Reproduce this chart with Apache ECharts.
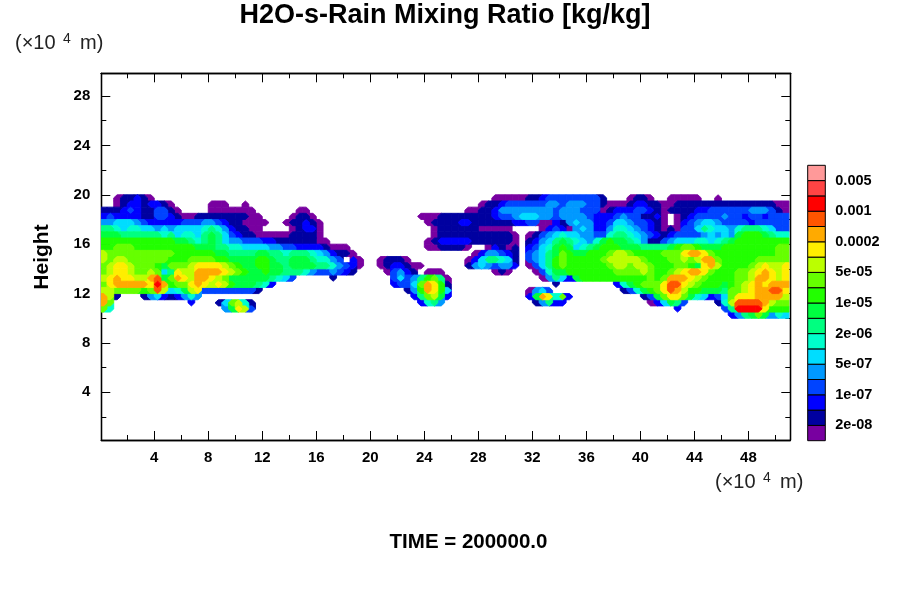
<!DOCTYPE html>
<html><head><meta charset="utf-8">
<style>html,body{margin:0;padding:0;background:#fff}#c{width:900px;height:600px}</style>
<script src="https://cdn.jsdelivr.net/npm/echarts@6/dist/echarts.min.js"></script>
</head><body><div id="c"></div>
<script>
// contour level per cell ('.' = no rain), columns every 0.5 x 10^4 m, rows every 0.5 x 10^4 m, first row is 20.0-19.5
const topHeight = 20, cellW = 0.5, cellH = 0.5;
const levelRows = [
"..011210.. .......... .......... .......... .......... ........00 0001123333 33331...01 10..00000. .0........ ..",
"..01221221 0.....000. .0........ .......... .......... ......0112 3333334434 4433100012 2110011111 1111111111 00",
"1112321133 10....0000 000......0 0......... .......... ....001124 4444444344 4333012223 3210111122 3333334443 10",
"2322221133 2100111111 1100....01 10........ .......000 1111111123 3455544344 4432223433 1120.01233 3343323323 33",
"4455543222 2233344321 10000..011 210....... ........01 1112211111 1223300214 5442235543 3210.02345 5433332333 33",
"7765665545 4555567642 1100....01 220....... .........0 1111110000 0....02320 4542246654 3210103357 6554677765 33",
"8887777776 7566578753 2110000011 110....... .........0 1111111111 10.0134565 5443367765 4321233334 5454899987 66",
"9999999999 9887678754 4333221111 1100...... ........01 2222211111 10.1245787 6546898876 4113455566 5678999999 99",
"99aaa99999 9999888776 6555544332 2221000... ........00 11110..021 01.2356898 5678999888 777789aa98 8899999999 aa",
"baaaaaaaaa a999999887 7778877677 76542110.. .......... .....02443 21.34578a9 88999abba9 999aaacddc a999999999 aa",
"babbaaaaaa 999aaaa998 8889987788 876643.20. .01110.... ....025776 51.34579a9 9999abbbbb a999aababd da99999aaa aa",
"abccbaaa98 aaabccccba 9889988788 887764320. .0122100.. ....145434 42.03579a9 99999abbab ba999aa98c db9999abcb bc",
"abccbaaba5 7cbbddddcb a988988777 64334321.. ..03421.00 0.......01 0...036889 999999aaaa ba99abcddc a999aabcdc bc",
"bcdccbbde8 adcbddcba8 888887653. ....1..... ...353479a 70........ .....04752 8999999999 9a9adddcba 9999aabddc bc",
"acdddddcfd 9aacdcbcb9 888762.... .......... ...2335adc 91........ .......1.. ......2689 aaaceecba9 9989abcdcd dd",
"bbaaaa9aeb 568bc33333 3331...... .......... .....149dc 95........ ...0453... .......136 89acedb998 887aabcdde ec",
"db1...1452 12464..... .......... .......... ......27ab 82........ ...28dc6a2 .......... 138acca865 235acccddd db",
"da........ ...2...15a b61....... .......... .......267 4......... ....14722. .......... .025873... .16beeeedb aa",
"a6........ ........48 cb3....... .......... .......... .......... .......... .......... .....2.... ..37ffffc9 99",
".......... .......... .......... .......... .......... .......... .......... .......... .......... ...2478a84 65"
];
const levelColors = ["#7800a0","#0000a0","#0000ff","#0044ff","#0099ff","#00ddff","#00ffcc","#00ff80","#00ff40","#22ff00","#66ff00","#bbff00","#ffee00","#ffaa00","#ff5500","#ff0000","#ff4444","#ff9999"];
const legendTickLevels = [1,3,5,7,9,11,13,15,17];
const legendTickLabels = ["2e-08","1e-07","5e-07","2e-06","1e-05","5e-05","0.0002","0.001","0.005"];
const xMajor = [4,8,12,16,20,24,28,32,36,40,44,48];
const xMinor = [2,6,10,14,18,22,26,30,34,38,42,46,50];
const yMajor = [4,8,12,16,20,24,28];
const yMinor = [2,6,10,14,18,22,26];
const xRange = [0.08,51.1], yRange = [0.14,29.84];

const levelGrid = levelRows.map(r=>r.replace(/ /g,'').split('').map(ch=>ch==='.'?-1:parseInt(ch,18)));
const cells = [];
levelGrid.forEach((s,i)=>s.forEach((lv,c)=>{ if(lv>=0) cells.push([c*cellW, topHeight-(i+1)*cellH, lv, i, c]); }));
cells.sort((a,b)=>a[2]-b[2]);
function at(r,c){ return (levelGrid[r]&&levelGrid[r][c]!==undefined)?levelGrid[r][c]:-1; }
// a cell's outline: where both neighbours at a corner are lower, that corner is bevelled and shows the higher neighbour
function renderCell(p,api){
  const x=api.value(0), y=api.value(1), lv=api.value(2), r=api.value(3), c=api.value(4);
  const tl=api.coord([x,y+cellH]), br=api.coord([x+cellW,y]);
  const L=tl[0],T=tl[1],R=br[0],B=br[1],mx=(L+R)/2,my=(T+B)/2;
  const atEdgeL=c===0, atEdgeR=c===levelGrid[0].length-1;
  const corners=[
    {n1:atEdgeL?lv:at(r,c-1),n2:at(r-1,c),pt:[L,T],a:[L,my],b:[mx,T]},
    {n1:at(r-1,c),n2:atEdgeR?lv:at(r,c+1),pt:[R,T],a:[mx,T],b:[R,my]},
    {n1:atEdgeR?lv:at(r,c+1),n2:at(r+1,c),pt:[R,B],a:[R,my],b:[mx,B]},
    {n1:at(r+1,c),n2:atEdgeL?lv:at(r,c-1),pt:[L,B],a:[mx,B],b:[L,my]}
  ];
  const pts=[],children=[];
  corners.forEach(k=>{
    if(k.n1<lv&&k.n2<lv){
      pts.push(k.a,k.b);
      const m=Math.max(k.n1,k.n2);
      if(m>=0) children.push({type:'polygon',shape:{points:[k.a,k.pt,k.b]},style:{fill:levelColors[m],stroke:levelColors[m],lineWidth:0.9}});
    } else pts.push(k.pt);
  });
  children.push({type:'polygon',shape:{points:pts},style:{fill:levelColors[lv],stroke:levelColors[lv],lineWidth:0.9}});
  return {type:'group',children};
}
const legendCells = levelColors.map((_,i)=>[0,i,i]);
const font = '"Liberation Sans",Arial,sans-serif';
const line = {show:true,lineStyle:{color:'#000',width:1.3}};
function xAx(pos,vals,len,labels){return {type:'value',gridIndex:0,position:pos,min:xRange[0],max:xRange[1],axisLine:line,splitLine:{show:false},
  axisTick:{show:true,inside:true,length:len,customValues:vals,lineStyle:{color:'#000',width:1}},
  axisLabel:labels?{show:true,customValues:vals,margin:10,color:'#000',fontFamily:font,fontWeight:'bold',fontSize:15,formatter:v=>String(v)}:{show:false}};}
function yAx(pos,vals,len,labels){return {type:'value',gridIndex:0,position:pos,min:yRange[0],max:yRange[1],axisLine:line,splitLine:{show:false},
  axisTick:{show:true,inside:true,length:len,customValues:vals,lineStyle:{color:'#000',width:1}},
  axisLabel:labels?{show:true,customValues:vals,margin:11,color:'#000',fontFamily:font,fontWeight:'bold',fontSize:15,formatter:v=>String(v)}:{show:false}};}
const thin = {fontFamily:font,fontSize:20,fill:'#222',fontWeight:'normal',textVerticalAlign:'middle'};
function unit(x,y){return [
  {type:'text',x:x,y:y,style:Object.assign({text:'(×10'},thin)},
  {type:'text',x:x+48,y:y-4,style:Object.assign({},thin,{text:'4',fontSize:14})},
  {type:'text',x:x+65,y:y,style:Object.assign({text:'m)'},thin)}
];}
const chart = echarts.init(document.getElementById('c'),null,{renderer:'canvas'});
chart.setOption({
  animation:false,backgroundColor:'#fff',
  grid:[{left:101.3,top:73.3,width:689,height:366.7,containLabel:false},{left:807.7,top:165.3,width:17.6,height:275.4}],
  xAxis:[xAx('bottom',xMajor,9,true),xAx('bottom',xMinor,5,false),xAx('top',xMajor,9,false),xAx('top',xMinor,5,false),
    {type:'value',gridIndex:1,min:0,max:1,show:false}],
  yAxis:[yAx('left',yMajor,9,true),yAx('left',yMinor,5,false),yAx('right',yMajor,9,false),yAx('right',yMinor,5,false),
    {type:'value',gridIndex:1,min:0,max:18,position:'right',axisLine:{show:false},splitLine:{show:false},axisTick:{show:false},
     axisLabel:{show:true,customValues:legendTickLevels,margin:10,color:'#000',fontFamily:font,fontWeight:'bold',fontSize:14.5,
       formatter:v=>legendTickLabels[legendTickLevels.indexOf(v)]}}],
  series:[
    {type:'custom',xAxisIndex:0,yAxisIndex:0,data:cells,encode:{x:0,y:1},clip:true,silent:true,renderItem:renderCell},
    {type:'custom',xAxisIndex:4,yAxisIndex:4,data:legendCells,encode:{y:1},silent:true,
     renderItem:(p,api)=>{const a=api.coord([0,api.value(1)+1]);const b=api.coord([1,api.value(1)]);
       return {type:'rect',shape:{x:a[0],y:a[1],width:b[0]-a[0],height:b[1]-a[1]},style:{fill:levelColors[api.value(2)],stroke:'#000',lineWidth:1}};}}
  ],
  graphic:[
    {type:'text',x:445,y:16,style:{text:'H2O-s-Rain Mixing Ratio [kg/kg]',fontFamily:font,fontWeight:'bold',fontSize:27,fill:'#000',textAlign:'center',textVerticalAlign:'middle'}},
    {type:'text',x:42,y:257,rotation:Math.PI/2,style:{text:'Height',fontFamily:font,fontWeight:'bold',fontSize:21,fill:'#000',textAlign:'center',textVerticalAlign:'middle'}},
    {type:'text',x:468.5,y:542,style:{text:'TIME = 200000.0',fontFamily:font,fontWeight:'bold',fontSize:20.5,fill:'#000',textAlign:'center',textVerticalAlign:'middle'}},
    ...unit(15,43),...unit(715,482)
  ]
});
</script></body></html>
